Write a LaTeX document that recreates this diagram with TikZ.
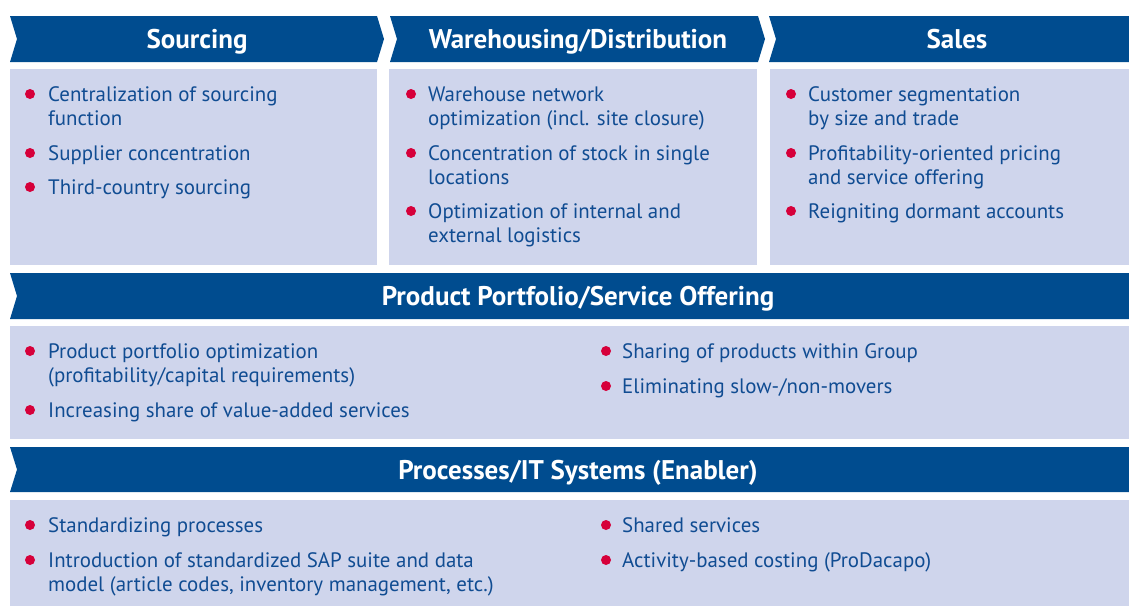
\documentclass[tikz,border=0pt]{standalone}
\usepackage{fontspec}
\setmainfont{PT Sans}
\definecolor{hdr}{RGB}{0,76,143}
\definecolor{bodybg}{RGB}{207,213,236}
\definecolor{bulred}{RGB}{214,0,58}
\definecolor{txtblue}{RGB}{16,76,146}
\tikzset{
  hdrshape/.style={fill=hdr},
  bodybox/.style={fill=bodybg},
  hdrtext/.style={text=white, font=\fontsize{27}{30}\selectfont\bfseries, inner sep=0pt, anchor=base},
  itemline/.style={text=txtblue, font=\fontsize{20.9}{24}\selectfont, inner sep=0pt, anchor=base west},
  bullet/.style={circle, fill=bulred, inner sep=0pt, minimum size=10pt},
}
\begin{document}
\begin{tikzpicture}[x=1pt,y=-1pt]
\useasboundingbox (0,0) rectangle (1129,606);
% row 1 headers
\fill[hdrshape] (10,16) -- (377,16) -- (384,39) -- (377,62) -- (10,62) -- (17,39) -- cycle;
\fill[hdrshape] (390,16) -- (758,16) -- (765,39) -- (758,62) -- (390,62) -- (397,39) -- cycle;
\fill[hdrshape] (769,16) -- (1129,16) -- (1129,62) -- (769,62) -- (776,39) -- cycle;
% row 1 bodies
\fill[bodybox] (10,69) rectangle (377,265);
\fill[bodybox] (389,69) rectangle (757,265);
\fill[bodybox] (770,69) rectangle (1129,265);
% row 2
\fill[hdrshape] (10,273) -- (1129,273) -- (1129,319) -- (10,319) -- (17,296) -- cycle;
\fill[bodybox] (10,326) rectangle (1129,439);
% row 3
\fill[hdrshape] (10,447) -- (1129,447) -- (1129,492) -- (10,492) -- (17,469.5) -- cycle;
\fill[bodybox] (10,500) rectangle (1129,606);

% header texts
\node[hdrtext] (hs) at (197,48) {Sourcing};
\node[hdrtext] (hw) at (578,48) {Warehousing/Distribution};
\node[hdrtext] (hsa) at (957,48) {Sales};
\node[hdrtext] (hp) at (578,305) {Product Portfolio/Service Offering};
\node[hdrtext] (hi) at (578,479) {Processes/IT Systems (Enabler)};

% Sourcing
\node[bullet] (sb1) at (30,94) {};
\node[itemline] (s1a) at (48,101.5) {Centralization of sourcing};
\node[itemline] (s1b) at (48,125.5) {function};
\node[bullet] (sb2) at (30,153) {};
\node[itemline] (s2a) at (48,160.5) {Supplier concentration};
\node[bullet] (sb3) at (30,187) {};
\node[itemline] (s3a) at (48,194.5) {Third-country sourcing};

% Warehousing
\node[bullet] (wb1) at (411,94) {};
\node[itemline] (w1a) at (428,101.5) {Warehouse network};
\node[itemline] (w1b) at (428,125.5) {optimization (incl. site closure)};
\node[bullet] (wb2) at (411,153) {};
\node[itemline] (w2a) at (428,160.5) {Concentration of stock in single};
\node[itemline] (w2b) at (428,184.5) {locations};
\node[bullet] (wb3) at (411,211) {};
\node[itemline] (w3a) at (428,218.5) {Optimization of internal and};
\node[itemline] (w3b) at (428,242.5) {external logistics};

% Sales
\node[bullet] (lb1) at (791,94) {};
\node[itemline] (l1a) at (808,101.5) {Customer segmentation};
\node[itemline] (l1b) at (808,125.5) {by size and trade};
\node[bullet] (lb2) at (791,153) {};
\node[itemline] (l2a) at (808,160.5) {Profitability-oriented pricing};
\node[itemline] (l2b) at (808,184.5) {and service offering};
\node[bullet] (lb3) at (791,211) {};
\node[itemline] (l3a) at (808,218.5) {Reigniting dormant accounts};

% Product portfolio
\node[bullet] (pb1) at (30,351) {};
\node[itemline] (p1a) at (48,358.5) {Product portfolio optimization};
\node[itemline] (p1b) at (48,382.5) {(profitability/capital requirements)};
\node[bullet] (pb2) at (30,410) {};
\node[itemline] (p2a) at (48,417.5) {Increasing share of value-added services};
\node[bullet] (pb3) at (606,351) {};
\node[itemline] (p3a) at (622,358.5) {Sharing of products within Group};
\node[bullet] (pb4) at (606,386) {};
\node[itemline] (p4a) at (622,393.5) {Eliminating slow-/non-movers};

% Processes
\node[bullet] (ib1) at (30,525) {};
\node[itemline] (i1a) at (48,532.5) {Standardizing processes};
\node[bullet] (ib2) at (30,560) {};
\node[itemline] (i2a) at (48,567.5) {Introduction of standardized SAP suite and data};
\node[itemline] (i2b) at (48,591.5) {model (article codes, inventory management, etc.)};
\node[bullet] (ib3) at (606,525) {};
\node[itemline] (i3a) at (622,532.5) {Shared services};
\node[bullet] (ib4) at (606,560) {};
\node[itemline] (i4a) at (622,567.5) {Activity-based costing (ProDacapo)};
\end{tikzpicture}
\end{document}
